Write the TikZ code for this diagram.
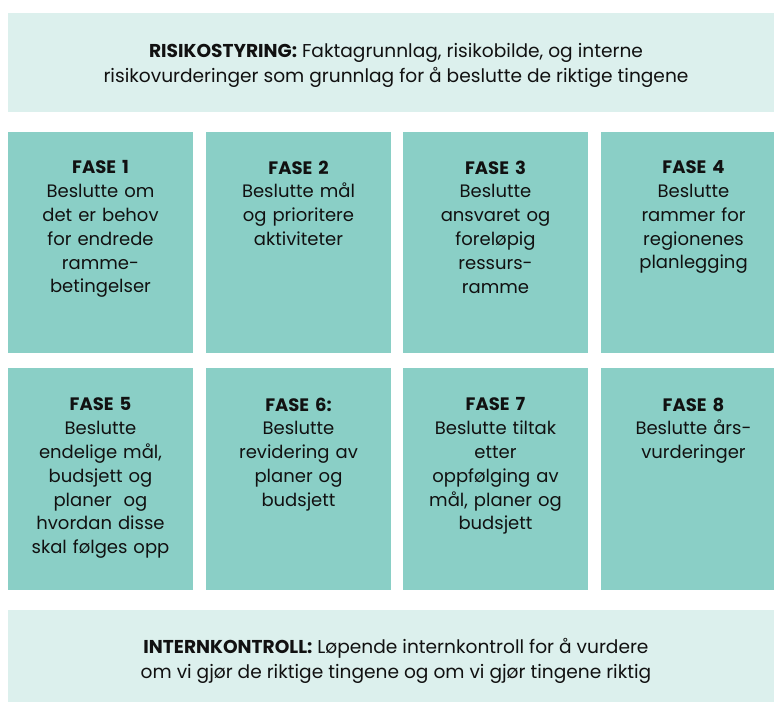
\documentclass[tikz,border=0pt]{standalone}
\usepackage{fontspec}
\setmainfont{Poppins}
\usepackage{xcolor}
\definecolor{bandgreen}{HTML}{DCF0ED}
\definecolor{fasegreen}{HTML}{8ACFC6}
\definecolor{tekst}{HTML}{111111}

\begin{document}
\begin{tikzpicture}[x=1pt,y=-1pt,
		fase/.style={anchor=north, align=center, text width=180pt, inner sep=0pt, text=tekst, font=\fontsize{18}{23.8}\selectfont},
		band/.style={align=center, inner sep=0pt, text=tekst, font=\fontsize{18.6}{25}\selectfont}]
			\useasboundingbox (0,0) rectangle (774,702);
			% rammer
			\fill[fill=bandgreen] (8,13) rectangle (774,112);
			\node[band] (risiko) at (396,65) {\textbf{RISIKOSTYRING:} Faktagrunnlag, risikobilde, og interne\\risikovurderinger som grunnlag for å beslutte de riktige tingene};
			\fill[fill=bandgreen] (8,610) rectangle (774,702);
			\node[band] (intern) at (396,661) {\textbf{INTERNKONTROLL:} Løpende internkontroll for å vurdere\\om vi gjør de riktige tingene og om vi gjør tingene riktig};
			% rad 1
			\fill[fill=fasegreen] (8,132) rectangle (193,353);
			\node[fase] (fase1) at (100.5,160.5) {\textbf{FASE 1}\\Beslutte om\\det er behov\\for endrede\\ramme-\\betingelser};
			\fill[fill=fasegreen] (206,132) rectangle (391,353);
			\node[fase] (fase2) at (298.5,160.5) {\textbf{FASE 2}\\Beslutte mål\\og prioritere\\aktiviteter};
			\fill[fill=fasegreen] (403,132) rectangle (588,353);
			\node[fase] (fase3) at (495.5,160.5) {\textbf{FASE 3}\\Beslutte\\ansvaret og\\foreløpig\\ressurs-\\ramme};
			\fill[fill=fasegreen] (601,132) rectangle (774,353);
			\node[fase] (fase4) at (693.5,160.5) {\textbf{FASE 4}\\Beslutte\\rammer for\\regionenes\\planlegging};
			% rad 2
			\fill[fill=fasegreen] (8,368) rectangle (193,590);
			\node[fase] (fase5) at (100.5,397.5) {\textbf{FASE 5}\\Beslutte\\endelige mål,\\budsjett og\\planer\ \ og\\hvordan disse\\skal følges opp};
			\fill[fill=fasegreen] (206,368) rectangle (391,590);
			\node[fase] (fase6) at (298.5,397.5) {\textbf{FASE 6:}\\Beslutte\\revidering av\\planer og\\budsjett};
			\fill[fill=fasegreen] (403,368) rectangle (588,590);
			\node[fase] (fase7) at (495.5,397.5) {\textbf{FASE 7}\\Beslutte tiltak\\etter\\oppfølging av\\mål, planer og\\budsjett};
			\fill[fill=fasegreen] (601,368) rectangle (774,590);
			\node[fase] (fase8) at (693.5,397.5) {\textbf{FASE 8}\\Beslutte års-\\vurderinger};
		\end{tikzpicture}
\end{document}
